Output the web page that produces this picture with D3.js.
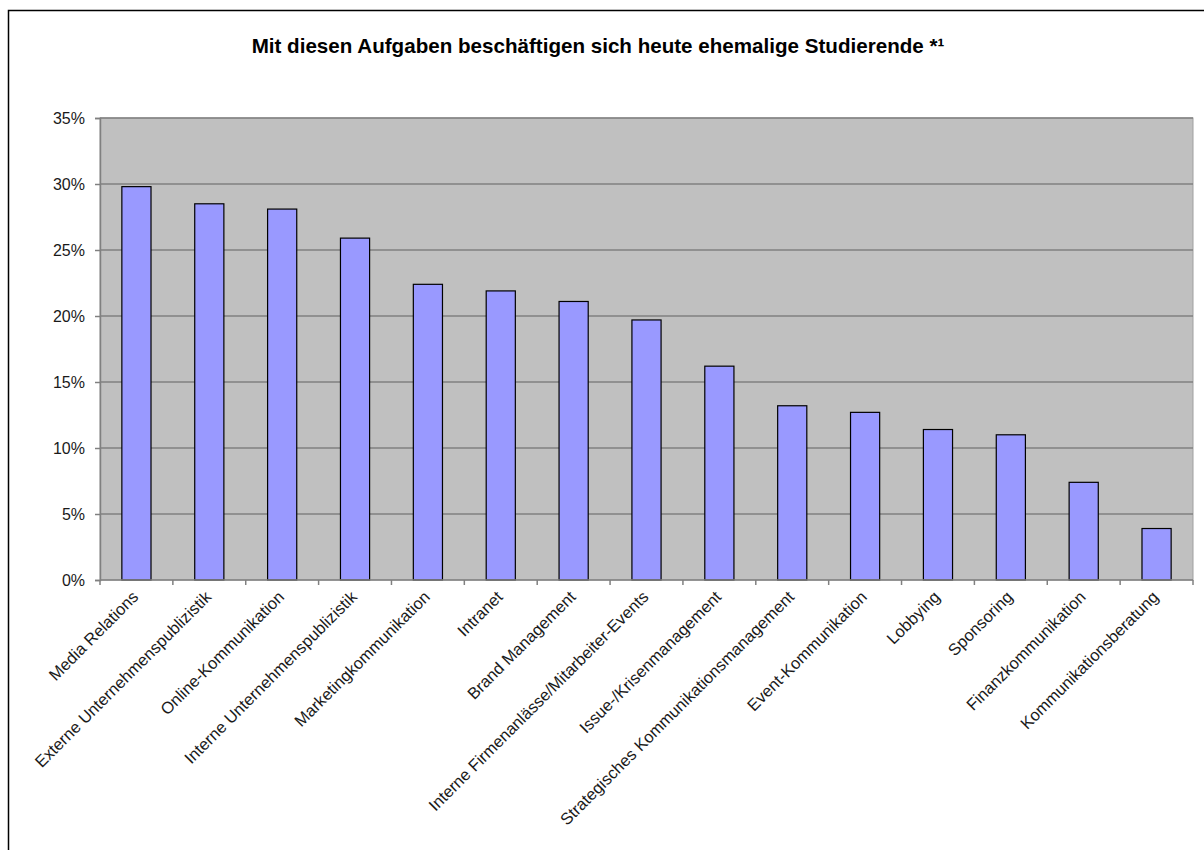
<!DOCTYPE html>
<html>
<head>
<meta charset="utf-8">
<script src="https://cdn.jsdelivr.net/npm/d3@7"></script>
<style>
  html, body { margin: 0; padding: 0; background: #fff; }
  svg { display: block; font-family: Arial, "Liberation Sans", sans-serif; }
</style>
</head>
<body>
<svg id="chart" width="1204" height="850"></svg>
<script>
const title = "Mit diesen Aufgaben beschäftigen sich heute ehemalige Studierende *¹";
const categories = [
  "Media Relations",
  "Externe Unternehmenspublizistik",
  "Online-Kommunikation",
  "Interne Unternehmenspublizistik",
  "Marketingkommunikation",
  "Intranet",
  "Brand Management",
  "Interne Firmenanlässe/Mitarbeiter-Events",
  "Issue-/Krisenmanagement",
  "Strategisches Kommunikationsmanagement",
  "Event-Kommunikation",
  "Lobbying",
  "Sponsoring",
  "Finanzkommunikation",
  "Kommunikationsberatung"
];
const values = [29.8, 28.5, 28.1, 25.9, 22.4, 21.9, 21.1, 19.7, 16.2, 13.2, 12.7, 11.4, 11.0, 7.4, 3.9];
const yTicks = [0, 5, 10, 15, 20, 25, 30, 35];

const svg = d3.select("#chart");
const margin = { left: 100, right: 11, top: 118, bottom: 270 };
const W = 1204, H = 850;
const x0 = margin.left, x1 = W - margin.right, y0 = H - margin.bottom, y1 = margin.top;

// outer frame
svg.append("rect").attr("x", 8.5).attr("y", 10.5).attr("width", 1210).attr("height", 860)
  .attr("fill", "#fff").attr("stroke", "#000").attr("stroke-width", 1.5);

const x = d3.scaleBand().domain(categories).range([x0, x1]).paddingInner(0.6).paddingOuter(0.3);
const y = d3.scaleLinear().domain([0, 35]).range([y0, y1]);

// plot background
svg.append("rect").attr("x", x0).attr("y", y1).attr("width", x1 - x0).attr("height", y0 - y1)
  .attr("fill", "#c0c0c0").attr("stroke", "#a0a0a0").attr("stroke-width", 1);

// gridlines
svg.append("g").selectAll("line").data(yTicks.filter(d => d > 0)).join("line")
  .attr("x1", x0).attr("x2", x1)
  .attr("y1", d => y(d)).attr("y2", d => y(d))
  .attr("stroke", "#808080").attr("stroke-width", 1.5);

// bars
svg.append("g").selectAll("rect").data(values).join("rect")
  .attr("x", (d, i) => x(categories[i]))
  .attr("y", d => y(d))
  .attr("width", x.bandwidth())
  .attr("height", d => y0 - y(d))
  .attr("fill", "#9999ff").attr("stroke", "#000").attr("stroke-width", 1.2);

// y axis
const yAxis = d3.axisLeft(y).tickValues(yTicks).tickFormat(d => d + "%").tickSize(5).tickPadding(10);
const gy = svg.append("g").attr("transform", `translate(${x0},0)`).call(yAxis);
gy.select(".domain").attr("stroke", "#808080").attr("stroke-width", 1.5);
gy.selectAll(".tick line").attr("stroke", "#808080").attr("stroke-width", 1.5);
gy.selectAll("text").attr("font-size", 16).attr("fill", "#1a1a1a").attr("font-family", "Arial, 'Liberation Sans', sans-serif");

// x axis baseline & ticks at category boundaries
const step = x.step();
const boundaries = d3.range(categories.length + 1).map(i => x0 + i * step);
svg.append("line").attr("x1", x0).attr("x2", x1).attr("y1", y0).attr("y2", y0)
  .attr("stroke", "#808080").attr("stroke-width", 1.5);
svg.append("g").selectAll("line").data(boundaries).join("line")
  .attr("x1", d => d).attr("x2", d => d).attr("y1", y0).attr("y2", y0 + 5)
  .attr("stroke", "#808080").attr("stroke-width", 1.5);

// x labels
svg.append("g").selectAll("text").data(categories).join("text")
  .attr("transform", d => `translate(${x(d) + x.bandwidth() / 2 + 3},${y0 + 18}) rotate(-45)`)
  .attr("text-anchor", "end")
  .attr("font-size", 16.5).attr("fill", "#1a1a1a")
  .text(d => d);

// title
svg.append("text").attr("x", 598).attr("y", 53).attr("text-anchor", "middle")
  .attr("font-size", 20.6).attr("font-weight", "bold").attr("fill", "#000")
  .text(title);
</script>
</body>
</html>
